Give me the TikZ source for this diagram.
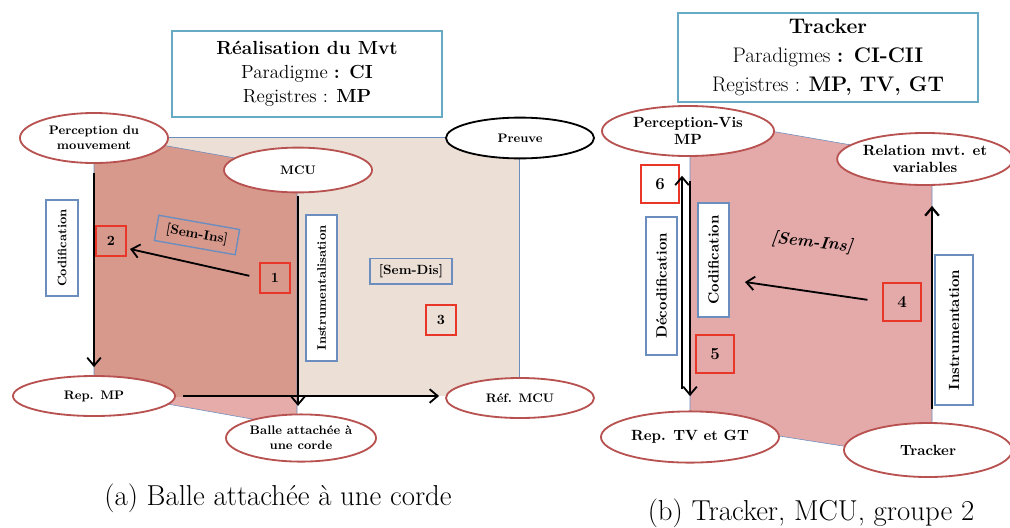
\documentclass[tikz,border=0pt]{standalone}
\usepackage{tikz}
\usetikzlibrary{arrows.meta,positioning,shapes.geometric}

\definecolor{beige}{HTML}{ECDFD5}
\definecolor{darkface}{HTML}{D8998D}
\definecolor{lightface}{HTML}{E6ACA9}
\definecolor{pinkface}{HTML}{E4A9A9}
\definecolor{ellred}{HTML}{B85250}
\definecolor{numred}{HTML}{E83728}
\definecolor{labblue}{HTML}{6C8EBF}
\definecolor{ttlblue}{HTML}{66AAC3}

\begin{document}
\begin{tikzpicture}[x=0.025cm,y=-0.025cm,
          ttl/.style={draw=ttlblue,line width=1.1pt,fill=white,align=center,inner sep=0pt},
          ell/.style={ellipse,draw=ellred,line width=1.3pt,fill=white,inner sep=0pt,align=center,font=\bfseries\fontsize{8.8}{10.5}\selectfont},
          ellb/.style={ell,font=\bfseries\fontsize{10.5}{12.5}\selectfont},
          lab/.style={draw=labblue,line width=1pt,fill=white,rotate=90,inner sep=0pt,font=\bfseries\fontsize{8.8}{10}\selectfont},
          labb/.style={lab,font=\bfseries\fontsize{10.5}{12}\selectfont},
          sem/.style={draw=labblue,line width=1pt,inner sep=0pt,minimum width=2.05cm,minimum height=0.64cm,font=\bfseries\fontsize{9.5}{10}\selectfont},
          num/.style={draw=numred,line width=1.3pt,minimum size=0.75cm,inner sep=0pt,font=\bfseries\fontsize{10}{11}\selectfont},
          numb/.style={num,minimum size=0.93cm,font=\bfseries\fontsize{12}{13}\selectfont},
          arr/.style={-{Straight Barb[length=2mm,width=3.4mm]},line width=1.3pt},
          edge/.style={draw=labblue,line width=0.4pt},
          capt/.style={font=\fontsize{20.5}{24}\selectfont}]
        \useasboundingbox (0,0) rectangle (1010,527);

        % faces
        \fill[beige] (94,137) rectangle (519,396);
        \fill[lightface] (94,133) -- (297,169) -- (297,427) -- (94,391) -- cycle;
        \begin{scope}
          \clip (94,137) rectangle (519,396);
          \fill[darkface] (94,133) -- (297,169) -- (297,427) -- (94,391) -- cycle;
        \end{scope}
        \draw[edge] (165,137) -- (519,137) -- (519,396);
        \draw[edge] (94,133) -- (297,169) -- (297,427) -- (94,391) -- cycle;
        \fill[pinkface] (690,117) -- (932,159) -- (932,460) -- (690,422) -- cycle;
        \draw[edge] (690,117) -- (932,159) -- (932,460) -- (690,422) -- cycle;

        % (a) balle attachee
        \node[ttl,minimum width=6.75cm,minimum height=2.15cm,font=\fontsize{13.5}{17}\selectfont] (titA) at (307,74)
          {\textbf{Réalisation du Mvt}\\Paradigme \textbf{: CI}\\Registres : \textbf{MP}};
        \node[ell,minimum width=3.7cm,minimum height=1.25cm] (perc) at (94,138) {Perception du\\mouvement};
        \node[ell,minimum width=3.7cm,minimum height=1.12cm] (mcu) at (298,170) {MCU};
        \node[ell,draw=black,minimum width=3.7cm,minimum height=1.02cm] (preuve) at (520,138) {Preuve};
        \node[ell,minimum width=4.05cm,minimum height=1.0cm] (repmp) at (94,396) {Rep. MP};
        \node[ell,minimum width=3.7cm,minimum height=1.0cm] (refmcu) at (520,398) {Réf. MCU};
        \node[ell,minimum width=3.75cm,minimum height=1.18cm] (balle) at (301,438) {Balle attachée à\\une corde};
        \node[lab,minimum width=2.4cm,minimum height=0.8cm] (codA) at (62,248) {Codification};
        \node[lab,minimum width=3.65cm,minimum height=0.78cm] (instA) at (321.5,288) {Instrumentalisation};
        \node[sem,rotate=-10] (semA) at (197,235) {[Sem-Ins]};
        \node[sem] (semD) at (411,271) {[Sem-Dis]};
        \node[num] (n1) at (275,278) {1};
        \node[num] (n2) at (111,241) {2};
        \node[num] (n3) at (441,320) {3};
        \coordinate (h2) at (130,249);
        \node[capt] (capA) at (278,498) {(a) Balle attachée à une corde};

        \draw[arr,shorten <=0.22cm,shorten >=0.2cm] (perc.south) -- (repmp.north);
        \draw[arr,shorten <=0.06cm,shorten >=0.19cm] (mcu.south) -- (mcu.south |- balle.north);
        \draw[arr,shorten <=0.18cm,shorten >=0.15cm] (repmp.east) -- (repmp.east -| refmcu.west);
        \draw[arr,shorten <=0.25cm] (n1.west) -- (h2);

        % (b) tracker
        \node[ttl,minimum width=7.5cm,minimum height=2.22cm,font=\fontsize{15}{20.5}\selectfont] (titB) at (828,57.5)
          {\textbf{Tracker}\\Paradigmes \textbf{: CI-CII}\\Registres : \textbf{MP, TV, GT}};
        \node[ellb,minimum width=4.3cm,minimum height=1.25cm] (percvis) at (688,131) {Perception-Vis\\MP};
        \node[ellb,minimum width=4.2cm,minimum height=1.3cm] (relation) at (925,159) {Relation mvt. et\\variables};
        \node[ellb,minimum width=4.45cm,minimum height=1.28cm] (reptv) at (690,437) {Rep. TV et GT};
        \node[ellb,minimum width=4.2cm,minimum height=1.35cm] (tracker) at (928,450) {Tracker};
        \node[labb,minimum width=3.45cm,minimum height=0.78cm] (decB) at (661.5,286) {Décodification};
        \node[labb,minimum width=2.85cm,minimum height=0.78cm] (codB) at (713.5,260) {Codification};
        \node[labb,minimum width=3.75cm,minimum height=0.95cm] (instB) at (954,330) {Instrumentation};
        \node[rotate=-6,font=\bfseries\itshape\fontsize{12}{14}\selectfont] (semB) at (812,243) {[Sem-Ins]};
        \node[numb] (n4) at (902,302) {4};
        \node[numb] (n5) at (715,354) {5};
        \node[numb] (n6) at (660,184) {6};
        \coordinate (h4) at (745,282);
        \node[capt] (capB) at (811,513) {(b) Tracker, MCU, groupe 2};

        \draw[arr,shorten <=0.54cm,shorten >=0.47cm] ([xshift=-0.2cm]reptv.north) -- ([xshift=-0.2cm]reptv.north |- percvis.south);
        \draw[arr,shorten <=0.6cm,shorten >=0.36cm] (reptv.north |- percvis.south) -- (reptv.north);
        \draw[arr,line width=1.6pt,shorten <=0.32cm,shorten >=0.5cm] ([xshift=0.1cm]tracker.north) -- ([xshift=0.1cm]tracker.north |- relation.south);
        \draw[arr,shorten <=0.38cm] (n4.west) -- (h4);
      \end{tikzpicture}
\end{document}
